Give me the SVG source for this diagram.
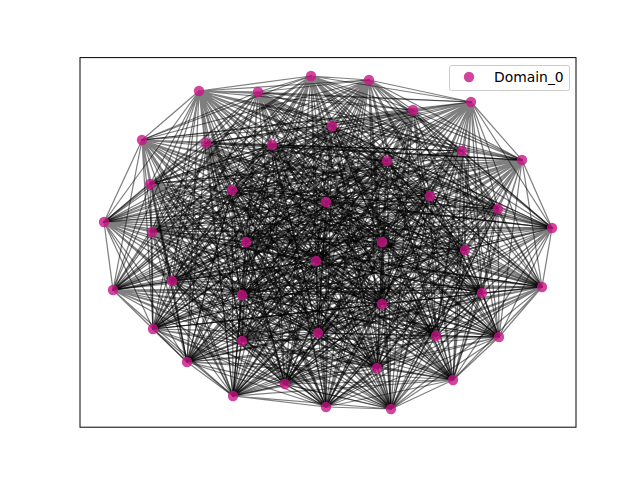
<svg xmlns="http://www.w3.org/2000/svg" width="640" height="480" viewBox="0 0 640 480">
<style>
.e{fill:none;stroke:#000;stroke-opacity:0.5;stroke-width:1.25;stroke-linejoin:round}
.n{fill:#C71585;fill-opacity:0.8}
</style>
<rect x="0" y="0" width="640" height="480" fill="#fff"/>
<g id="connectors">
<path class="e" d="M199 91 258 92 199 91 311 76 199 91 369 80 199 91 413 110 199 91 471 102 199 91 332 126 199 91 142 140 199 91 206 143 199 91 272 145 199 91 387 161 199 91 462 151 199 91 522 160 199 91 150 184 199 91 232 190 199 91 326 202 199 91 430 196 199 91 498 209 199 91 104 222 199 91 152 232 199 91 246 242 199 91 382 242 199 91 465 250 199 91 552 228 199 91 316 261 199 91 113 290 199 91 172 281 199 91 242 295 199 91 382 304 199 91 482 293 199 91 542 287 199 91 153 329 199 91 318 333 199 91 436 336 199 91 499 337 199 91 242 341 199 91 187 362 199 91 377 368 199 91 453 380 199 91 285 384 199 91 233 396 199 91 326 407 199 91 391 409"/>
<path class="e" d="M258 92 311 76 258 92 369 80 258 92 413 110 258 92 471 102 258 92 332 126 258 92 142 140 258 92 206 143 258 92 272 145 258 92 387 161 258 92 462 151 258 92 522 160 258 92 150 184 258 92 232 190 258 92 326 202 258 92 430 196 258 92 498 209 258 92 104 222 258 92 152 232 258 92 246 242 258 92 382 242 258 92 465 250 258 92 552 228 258 92 316 261 258 92 113 290 258 92 172 281 258 92 242 295 258 92 382 304 258 92 482 293 258 92 542 287 258 92 153 329 258 92 318 333 258 92 436 336 258 92 499 337 258 92 242 341 258 92 187 362 258 92 377 368 258 92 453 380 258 92 285 384 258 92 233 396 258 92 326 407 258 92 391 409"/>
<path class="e" d="M311 76 369 80 311 76 413 110 311 76 471 102 311 76 332 126 311 76 142 140 311 76 206 143 311 76 272 145 311 76 387 161 311 76 462 151 311 76 522 160 311 76 150 184 311 76 232 190 311 76 326 202 311 76 430 196 311 76 498 209 311 76 104 222 311 76 152 232 311 76 246 242 311 76 382 242 311 76 465 250 311 76 552 228 311 76 316 261 311 76 113 290 311 76 172 281 311 76 242 295 311 76 382 304 311 76 482 293 311 76 542 287 311 76 153 329 311 76 318 333 311 76 436 336 311 76 499 337 311 76 242 341 311 76 187 362 311 76 377 368 311 76 453 380 311 76 285 384 311 76 233 396 311 76 326 407 311 76 391 409"/>
<path class="e" d="M369 80 413 110 369 80 471 102 369 80 332 126 369 80 142 140 369 80 206 143 369 80 272 145 369 80 387 161 369 80 462 151 369 80 522 160 369 80 150 184 369 80 232 190 369 80 326 202 369 80 430 196 369 80 498 209 369 80 104 222 369 80 152 232 369 80 246 242 369 80 382 242 369 80 465 250 369 80 552 228 369 80 316 261 369 80 113 290 369 80 172 281 369 80 242 295 369 80 382 304 369 80 482 293 369 80 542 287 369 80 153 329 369 80 318 333 369 80 436 336 369 80 499 337 369 80 242 341 369 80 187 362 369 80 377 368 369 80 453 380 369 80 285 384 369 80 233 396 369 80 326 407 369 80 391 409"/>
<path class="e" d="M413 110 471 102 413 110 332 126 413 110 142 140 413 110 206 143 413 110 272 145 413 110 387 161 413 110 462 151 413 110 522 160 413 110 150 184 413 110 232 190 413 110 326 202 413 110 430 196 413 110 498 209 413 110 104 222 413 110 152 232 413 110 246 242 413 110 382 242 413 110 465 250 413 110 552 228 413 110 316 261 413 110 113 290 413 110 172 281 413 110 242 295 413 110 382 304 413 110 482 293 413 110 542 287 413 110 153 329 413 110 318 333 413 110 436 336 413 110 499 337 413 110 242 341 413 110 187 362 413 110 377 368 413 110 453 380 413 110 285 384 413 110 233 396 413 110 326 407 413 110 391 409"/>
<path class="e" d="M471 102 332 126 471 102 142 140 471 102 206 143 471 102 272 145 471 102 387 161 471 102 462 151 471 102 522 160 471 102 150 184 471 102 232 190 471 102 326 202 471 102 430 196 471 102 498 209 471 102 104 222 471 102 152 232 471 102 246 242 471 102 382 242 471 102 465 250 471 102 552 228 471 102 316 261 471 102 113 290 471 102 172 281 471 102 242 295 471 102 382 304 471 102 482 293 471 102 542 287 471 102 153 329 471 102 318 333 471 102 436 336 471 102 499 337 471 102 242 341 471 102 187 362 471 102 377 368 471 102 453 380 471 102 285 384 471 102 233 396 471 102 326 407 471 102 391 409"/>
<path class="e" d="M332 126 142 140 332 126 206 143 332 126 272 145 332 126 387 161 332 126 462 151 332 126 522 160 332 126 150 184 332 126 232 190 332 126 326 202 332 126 430 196 332 126 498 209 332 126 104 222 332 126 152 232 332 126 246 242 332 126 382 242 332 126 465 250 332 126 552 228 332 126 316 261 332 126 113 290 332 126 172 281 332 126 242 295 332 126 382 304 332 126 482 293 332 126 542 287 332 126 153 329 332 126 318 333 332 126 436 336 332 126 499 337 332 126 242 341 332 126 187 362 332 126 377 368 332 126 453 380 332 126 285 384 332 126 233 396 332 126 326 407 332 126 391 409"/>
<path class="e" d="M142 140 206 143 142 140 272 145 142 140 387 161 142 140 462 151 142 140 522 160 142 140 150 184 142 140 232 190 142 140 326 202 142 140 430 196 142 140 498 209 142 140 104 222 142 140 152 232 142 140 246 242 142 140 382 242 142 140 465 250 142 140 552 228 142 140 316 261 142 140 113 290 142 140 172 281 142 140 242 295 142 140 382 304 142 140 482 293 142 140 542 287 142 140 153 329 142 140 318 333 142 140 436 336 142 140 499 337 142 140 242 341 142 140 187 362 142 140 377 368 142 140 453 380 142 140 285 384 142 140 233 396 142 140 326 407 142 140 391 409"/>
<path class="e" d="M206 143 272 145 206 143 387 161 206 143 462 151 206 143 522 160 206 143 150 184 206 143 232 190 206 143 326 202 206 143 430 196 206 143 498 209 206 143 104 222 206 143 152 232 206 143 246 242 206 143 382 242 206 143 465 250 206 143 552 228 206 143 316 261 206 143 113 290 206 143 172 281 206 143 242 295 206 143 382 304 206 143 482 293 206 143 542 287 206 143 153 329 206 143 318 333 206 143 436 336 206 143 499 337 206 143 242 341 206 143 187 362 206 143 377 368 206 143 453 380 206 143 285 384 206 143 233 396 206 143 326 407 206 143 391 409"/>
<path class="e" d="M272 145 387 161 272 145 462 151 272 145 522 160 272 145 150 184 272 145 232 190 272 145 326 202 272 145 430 196 272 145 498 209 272 145 104 222 272 145 152 232 272 145 246 242 272 145 382 242 272 145 465 250 272 145 552 228 272 145 316 261 272 145 113 290 272 145 172 281 272 145 242 295 272 145 382 304 272 145 482 293 272 145 542 287 272 145 153 329 272 145 318 333 272 145 436 336 272 145 499 337 272 145 242 341 272 145 187 362 272 145 377 368 272 145 453 380 272 145 285 384 272 145 233 396 272 145 326 407 272 145 391 409"/>
<path class="e" d="M387 161 462 151 387 161 522 160 387 161 150 184 387 161 232 190 387 161 326 202 387 161 430 196 387 161 498 209 387 161 104 222 387 161 152 232 387 161 246 242 387 161 382 242 387 161 465 250 387 161 552 228 387 161 316 261 387 161 113 290 387 161 172 281 387 161 242 295 387 161 382 304 387 161 482 293 387 161 542 287 387 161 153 329 387 161 318 333 387 161 436 336 387 161 499 337 387 161 242 341 387 161 187 362 387 161 377 368 387 161 453 380 387 161 285 384 387 161 233 396 387 161 326 407 387 161 391 409"/>
<path class="e" d="M462 151 522 160 462 151 150 184 462 151 232 190 462 151 326 202 462 151 430 196 462 151 498 209 462 151 104 222 462 151 152 232 462 151 246 242 462 151 382 242 462 151 465 250 462 151 552 228 462 151 316 261 462 151 113 290 462 151 172 281 462 151 242 295 462 151 382 304 462 151 482 293 462 151 542 287 462 151 153 329 462 151 318 333 462 151 436 336 462 151 499 337 462 151 242 341 462 151 187 362 462 151 377 368 462 151 453 380 462 151 285 384 462 151 233 396 462 151 326 407 462 151 391 409"/>
<path class="e" d="M522 160 150 184 522 160 232 190 522 160 326 202 522 160 430 196 522 160 498 209 522 160 104 222 522 160 152 232 522 160 246 242 522 160 382 242 522 160 465 250 522 160 552 228 522 160 316 261 522 160 113 290 522 160 172 281 522 160 242 295 522 160 382 304 522 160 482 293 522 160 542 287 522 160 153 329 522 160 318 333 522 160 436 336 522 160 499 337 522 160 242 341 522 160 187 362 522 160 377 368 522 160 453 380 522 160 285 384 522 160 233 396 522 160 326 407 522 160 391 409"/>
<path class="e" d="M150 184 232 190 150 184 326 202 150 184 430 196 150 184 498 209 150 184 104 222 150 184 152 232 150 184 246 242 150 184 382 242 150 184 465 250 150 184 552 228 150 184 316 261 150 184 113 290 150 184 172 281 150 184 242 295 150 184 382 304 150 184 482 293 150 184 542 287 150 184 153 329 150 184 318 333 150 184 436 336 150 184 499 337 150 184 242 341 150 184 187 362 150 184 377 368 150 184 453 380 150 184 285 384 150 184 233 396 150 184 326 407 150 184 391 409"/>
<path class="e" d="M232 190 326 202 232 190 430 196 232 190 498 209 232 190 104 222 232 190 152 232 232 190 246 242 232 190 382 242 232 190 465 250 232 190 552 228 232 190 316 261 232 190 113 290 232 190 172 281 232 190 242 295 232 190 382 304 232 190 482 293 232 190 542 287 232 190 153 329 232 190 318 333 232 190 436 336 232 190 499 337 232 190 242 341 232 190 187 362 232 190 377 368 232 190 453 380 232 190 285 384 232 190 233 396 232 190 326 407 232 190 391 409"/>
<path class="e" d="M326 202 430 196 326 202 498 209 326 202 104 222 326 202 152 232 326 202 246 242 326 202 382 242 326 202 465 250 326 202 552 228 326 202 316 261 326 202 113 290 326 202 172 281 326 202 242 295 326 202 382 304 326 202 482 293 326 202 542 287 326 202 153 329 326 202 318 333 326 202 436 336 326 202 499 337 326 202 242 341 326 202 187 362 326 202 377 368 326 202 453 380 326 202 285 384 326 202 233 396 326 202 326 407 326 202 391 409"/>
<path class="e" d="M430 196 498 209 430 196 104 222 430 196 152 232 430 196 246 242 430 196 382 242 430 196 465 250 430 196 552 228 430 196 316 261 430 196 113 290 430 196 172 281 430 196 242 295 430 196 382 304 430 196 482 293 430 196 542 287 430 196 153 329 430 196 318 333 430 196 436 336 430 196 499 337 430 196 242 341 430 196 187 362 430 196 377 368 430 196 453 380 430 196 285 384 430 196 233 396 430 196 326 407 430 196 391 409"/>
<path class="e" d="M498 209 104 222 498 209 152 232 498 209 246 242 498 209 382 242 498 209 465 250 498 209 552 228 498 209 316 261 498 209 113 290 498 209 172 281 498 209 242 295 498 209 382 304 498 209 482 293 498 209 542 287 498 209 153 329 498 209 318 333 498 209 436 336 498 209 499 337 498 209 242 341 498 209 187 362 498 209 377 368 498 209 453 380 498 209 285 384 498 209 233 396 498 209 326 407 498 209 391 409"/>
<path class="e" d="M104 222 152 232 104 222 246 242 104 222 382 242 104 222 465 250 104 222 552 228 104 222 316 261 104 222 113 290 104 222 172 281 104 222 242 295 104 222 382 304 104 222 482 293 104 222 542 287 104 222 153 329 104 222 318 333 104 222 436 336 104 222 499 337 104 222 242 341 104 222 187 362 104 222 377 368 104 222 453 380 104 222 285 384 104 222 233 396 104 222 326 407 104 222 391 409"/>
<path class="e" d="M152 232 246 242 152 232 382 242 152 232 465 250 152 232 552 228 152 232 316 261 152 232 113 290 152 232 172 281 152 232 242 295 152 232 382 304 152 232 482 293 152 232 542 287 152 232 153 329 152 232 318 333 152 232 436 336 152 232 499 337 152 232 242 341 152 232 187 362 152 232 377 368 152 232 453 380 152 232 285 384 152 232 233 396 152 232 326 407 152 232 391 409"/>
<path class="e" d="M246 242 382 242 246 242 465 250 246 242 552 228 246 242 316 261 246 242 113 290 246 242 172 281 246 242 242 295 246 242 382 304 246 242 482 293 246 242 542 287 246 242 153 329 246 242 318 333 246 242 436 336 246 242 499 337 246 242 242 341 246 242 187 362 246 242 377 368 246 242 453 380 246 242 285 384 246 242 233 396 246 242 326 407 246 242 391 409"/>
<path class="e" d="M382 242 465 250 382 242 552 228 382 242 316 261 382 242 113 290 382 242 172 281 382 242 242 295 382 242 382 304 382 242 482 293 382 242 542 287 382 242 153 329 382 242 318 333 382 242 436 336 382 242 499 337 382 242 242 341 382 242 187 362 382 242 377 368 382 242 453 380 382 242 285 384 382 242 233 396 382 242 326 407 382 242 391 409"/>
<path class="e" d="M465 250 552 228 465 250 316 261 465 250 113 290 465 250 172 281 465 250 242 295 465 250 382 304 465 250 482 293 465 250 542 287 465 250 153 329 465 250 318 333 465 250 436 336 465 250 499 337 465 250 242 341 465 250 187 362 465 250 377 368 465 250 453 380 465 250 285 384 465 250 233 396 465 250 326 407 465 250 391 409"/>
<path class="e" d="M552 228 316 261 552 228 113 290 552 228 172 281 552 228 242 295 552 228 382 304 552 228 482 293 552 228 542 287 552 228 153 329 552 228 318 333 552 228 436 336 552 228 499 337 552 228 242 341 552 228 187 362 552 228 377 368 552 228 453 380 552 228 285 384 552 228 233 396 552 228 326 407 552 228 391 409"/>
<path class="e" d="M316 261 113 290 316 261 172 281 316 261 242 295 316 261 382 304 316 261 482 293 316 261 542 287 316 261 153 329 316 261 318 333 316 261 436 336 316 261 499 337 316 261 242 341 316 261 187 362 316 261 377 368 316 261 453 380 316 261 285 384 316 261 233 396 316 261 326 407 316 261 391 409"/>
<path class="e" d="M113 290 172 281 113 290 242 295 113 290 382 304 113 290 482 293 113 290 542 287 113 290 153 329 113 290 318 333 113 290 436 336 113 290 499 337 113 290 242 341 113 290 187 362 113 290 377 368 113 290 453 380 113 290 285 384 113 290 233 396 113 290 326 407 113 290 391 409"/>
<path class="e" d="M172 281 242 295 172 281 382 304 172 281 482 293 172 281 542 287 172 281 153 329 172 281 318 333 172 281 436 336 172 281 499 337 172 281 242 341 172 281 187 362 172 281 377 368 172 281 453 380 172 281 285 384 172 281 233 396 172 281 326 407 172 281 391 409"/>
<path class="e" d="M242 295 382 304 242 295 482 293 242 295 542 287 242 295 153 329 242 295 318 333 242 295 436 336 242 295 499 337 242 295 242 341 242 295 187 362 242 295 377 368 242 295 453 380 242 295 285 384 242 295 233 396 242 295 326 407 242 295 391 409"/>
<path class="e" d="M382 304 482 293 382 304 542 287 382 304 153 329 382 304 318 333 382 304 436 336 382 304 499 337 382 304 242 341 382 304 187 362 382 304 377 368 382 304 453 380 382 304 285 384 382 304 233 396 382 304 326 407 382 304 391 409"/>
<path class="e" d="M482 293 542 287 482 293 153 329 482 293 318 333 482 293 436 336 482 293 499 337 482 293 242 341 482 293 187 362 482 293 377 368 482 293 453 380 482 293 285 384 482 293 233 396 482 293 326 407 482 293 391 409"/>
<path class="e" d="M542 287 153 329 542 287 318 333 542 287 436 336 542 287 499 337 542 287 242 341 542 287 187 362 542 287 377 368 542 287 453 380 542 287 285 384 542 287 233 396 542 287 326 407 542 287 391 409"/>
<path class="e" d="M153 329 318 333 153 329 436 336 153 329 499 337 153 329 242 341 153 329 187 362 153 329 377 368 153 329 453 380 153 329 285 384 153 329 233 396 153 329 326 407 153 329 391 409"/>
<path class="e" d="M318 333 436 336 318 333 499 337 318 333 242 341 318 333 187 362 318 333 377 368 318 333 453 380 318 333 285 384 318 333 233 396 318 333 326 407 318 333 391 409"/>
<path class="e" d="M436 336 499 337 436 336 242 341 436 336 187 362 436 336 377 368 436 336 453 380 436 336 285 384 436 336 233 396 436 336 326 407 436 336 391 409"/>
<path class="e" d="M499 337 242 341 499 337 187 362 499 337 377 368 499 337 453 380 499 337 285 384 499 337 233 396 499 337 326 407 499 337 391 409"/>
<path class="e" d="M242 341 187 362 242 341 377 368 242 341 453 380 242 341 285 384 242 341 233 396 242 341 326 407 242 341 391 409"/>
<path class="e" d="M187 362 377 368 187 362 453 380 187 362 285 384 187 362 233 396 187 362 326 407 187 362 391 409"/>
<path class="e" d="M377 368 453 380 377 368 285 384 377 368 233 396 377 368 326 407 377 368 391 409"/>
<path class="e" d="M453 380 285 384 453 380 233 396 453 380 326 407 453 380 391 409"/>
<path class="e" d="M285 384 233 396 285 384 326 407 285 384 391 409"/>
<path class="e" d="M233 396 326 407 233 396 391 409"/>
<path class="e" d="M326 407 391 409"/>
</g>
<g id="nodes">
<g id="n0"><circle class="n" cx="199" cy="91" r="5.2"/></g>
<g id="n1"><circle class="n" cx="258" cy="92" r="5.2"/></g>
<g id="n2"><circle class="n" cx="311" cy="76" r="5.2"/></g>
<g id="n3"><circle class="n" cx="369" cy="80" r="5.2"/></g>
<g id="n4"><circle class="n" cx="413" cy="110" r="5.2"/></g>
<g id="n5"><circle class="n" cx="471" cy="102" r="5.2"/></g>
<g id="n6"><circle class="n" cx="332" cy="126" r="5.2"/></g>
<g id="n7"><circle class="n" cx="142" cy="140" r="5.2"/></g>
<g id="n8"><circle class="n" cx="206" cy="143" r="5.2"/></g>
<g id="n9"><circle class="n" cx="272" cy="145" r="5.2"/></g>
<g id="n10"><circle class="n" cx="387" cy="161" r="5.2"/></g>
<g id="n11"><circle class="n" cx="462" cy="151" r="5.2"/></g>
<g id="n12"><circle class="n" cx="522" cy="160" r="5.2"/></g>
<g id="n13"><circle class="n" cx="150" cy="184" r="5.2"/></g>
<g id="n14"><circle class="n" cx="232" cy="190" r="5.2"/></g>
<g id="n15"><circle class="n" cx="326" cy="202" r="5.2"/></g>
<g id="n16"><circle class="n" cx="430" cy="196" r="5.2"/></g>
<g id="n17"><circle class="n" cx="498" cy="209" r="5.2"/></g>
<g id="n18"><circle class="n" cx="104" cy="222" r="5.2"/></g>
<g id="n19"><circle class="n" cx="152" cy="232" r="5.2"/></g>
<g id="n20"><circle class="n" cx="246" cy="242" r="5.2"/></g>
<g id="n21"><circle class="n" cx="382" cy="242" r="5.2"/></g>
<g id="n22"><circle class="n" cx="465" cy="250" r="5.2"/></g>
<g id="n23"><circle class="n" cx="552" cy="228" r="5.2"/></g>
<g id="n24"><circle class="n" cx="316" cy="261" r="5.2"/></g>
<g id="n25"><circle class="n" cx="113" cy="290" r="5.2"/></g>
<g id="n26"><circle class="n" cx="172" cy="281" r="5.2"/></g>
<g id="n27"><circle class="n" cx="242" cy="295" r="5.2"/></g>
<g id="n28"><circle class="n" cx="382" cy="304" r="5.2"/></g>
<g id="n29"><circle class="n" cx="482" cy="293" r="5.2"/></g>
<g id="n30"><circle class="n" cx="542" cy="287" r="5.2"/></g>
<g id="n31"><circle class="n" cx="153" cy="329" r="5.2"/></g>
<g id="n32"><circle class="n" cx="318" cy="333" r="5.2"/></g>
<g id="n33"><circle class="n" cx="436" cy="336" r="5.2"/></g>
<g id="n34"><circle class="n" cx="499" cy="337" r="5.2"/></g>
<g id="n35"><circle class="n" cx="242" cy="341" r="5.2"/></g>
<g id="n36"><circle class="n" cx="187" cy="362" r="5.2"/></g>
<g id="n37"><circle class="n" cx="377" cy="368" r="5.2"/></g>
<g id="n38"><circle class="n" cx="453" cy="380" r="5.2"/></g>
<g id="n39"><circle class="n" cx="285" cy="384" r="5.2"/></g>
<g id="n40"><circle class="n" cx="233" cy="396" r="5.2"/></g>
<g id="n41"><circle class="n" cx="326" cy="407" r="5.2"/></g>
<g id="n42"><circle class="n" cx="391" cy="409" r="5.2"/></g>
</g>
<rect x="80" y="57.6" width="496" height="369.6" fill="none" stroke="#000" stroke-width="1"/>
<g id="legend">
<rect x="449.5" y="65.5" width="120" height="25" rx="2" fill="#fff" fill-opacity="0.8" stroke="#ccc" stroke-width="1"/>
<circle class="n" cx="469" cy="77" r="5.2"/>
<text x="494" y="82" font-family="DejaVu Sans, sans-serif" font-size="13.9" fill="#000">Domain_0</text>
</g>
</svg>
